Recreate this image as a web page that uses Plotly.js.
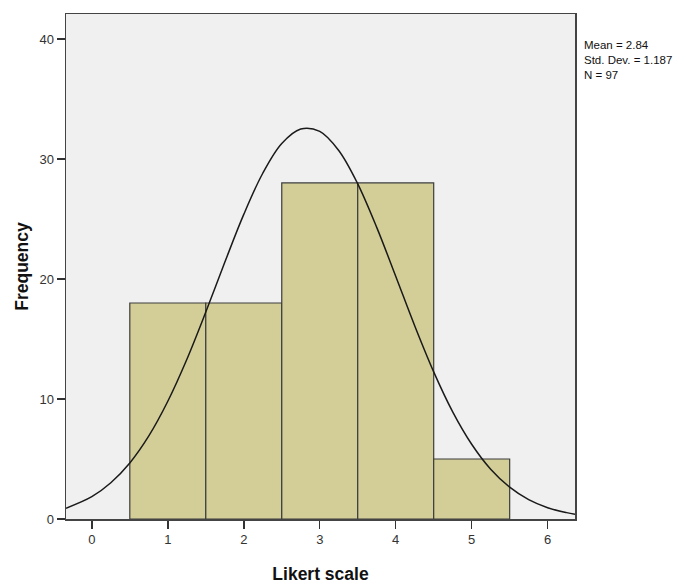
<!DOCTYPE html>
<html><head><meta charset="utf-8">
<script src="https://cdn.plot.ly/plotly-3.0.1.min.js"></script>
<style>html,body{margin:0;padding:0;background:#fff}#c{width:686px;height:584px}</style>
</head><body><div id="c"></div>
<script>
const categories = [1, 2, 3, 4, 5];
const frequencies = [18, 18, 28, 28, 5];
const curveX = [-0.34, 0, 0.25, 0.5, 0.75, 1, 1.25, 1.5, 1.75, 2, 2.25, 2.5, 2.75, 3, 3.25, 3.5, 3.75, 4, 4.25, 4.5, 4.75, 5, 5.25, 5.5, 5.75, 6, 6.25, 6.36];
const curveY = [0.9, 1.86, 3.02, 4.67, 6.92, 9.81, 13.29, 17.24, 21.39, 25.38, 28.81, 31.29, 32.5, 32.3, 30.71, 27.93, 24.3, 20.23, 16.1, 12.26, 8.93, 6.23, 4.15, 2.65, 1.61, 0.94, 0.53, 0.4];
const xTicks = [0, 1, 2, 3, 4, 5, 6];
const yTicks = [0, 10, 20, 30, 40];
const statsText = ["Mean = 2.84", "Std. Dev. = 1.187", "N = 97"];

const titleFont = {size: 17.5, color: '#111', family: 'Arial, "Liberation Sans", sans-serif', weight: 'bold'};
const tickFont = {size: 13, color: '#333', family: 'Arial, "Liberation Sans", sans-serif'};

const traces = [
  {type: 'bar', x: categories, y: frequencies, width: 1,
   marker: {color: '#d3ce98', line: {color: '#3c3c3c', width: 1.2}},
   hoverinfo: 'x+y'},
  {type: 'scatter', mode: 'lines', x: curveX, y: curveY,
   line: {color: '#1a1a1a', width: 1.5, shape: 'spline', smoothing: 1},
   hoverinfo: 'skip'}
];

const layout = {
  width: 686, height: 584,
  margin: {l: 66, r: 111, t: 14, b: 65},
  paper_bgcolor: '#ffffff', plot_bgcolor: '#f0f0f0',
  showlegend: false, bargap: 0,
  font: {family: 'Arial, "Liberation Sans", sans-serif', color: '#333'},
  xaxis: {range: [-0.34, 6.36], tickvals: xTicks, ticktext: xTicks.map(String),
    ticks: 'outside', ticklen: 8, tickwidth: 1.5, tickcolor: '#333',
    showgrid: false, zeroline: false, showline: true, linecolor: '#444', linewidth: 1.5, mirror: true,
    tickfont: tickFont,
    title: {text: 'Likert scale', font: titleFont, standoff: 22}},
  yaxis: {range: [0, 42.08], tickvals: yTicks, ticktext: yTicks.map(String),
    ticks: 'outside', ticklen: 8, tickwidth: 1.5, tickcolor: '#333',
    showgrid: false, zeroline: false, showline: true, linecolor: '#444', linewidth: 1.5, mirror: true,
    tickfont: tickFont,
    title: {text: 'Frequency', font: titleFont, standoff: 6}},
  annotations: [{
    xref: 'paper', yref: 'paper', x: 1, y: 1, xanchor: 'left', yanchor: 'top',
    xshift: 7, yshift: -23, align: 'left', showarrow: false,
    text: statsText.join('<br>'),
    font: {size: 11.5, color: '#111', family: 'Arial, "Liberation Sans", sans-serif'}
  }]
};

Plotly.newPlot('c', traces, layout, {displayModeBar: false, staticPlot: true});
</script></body></html>
